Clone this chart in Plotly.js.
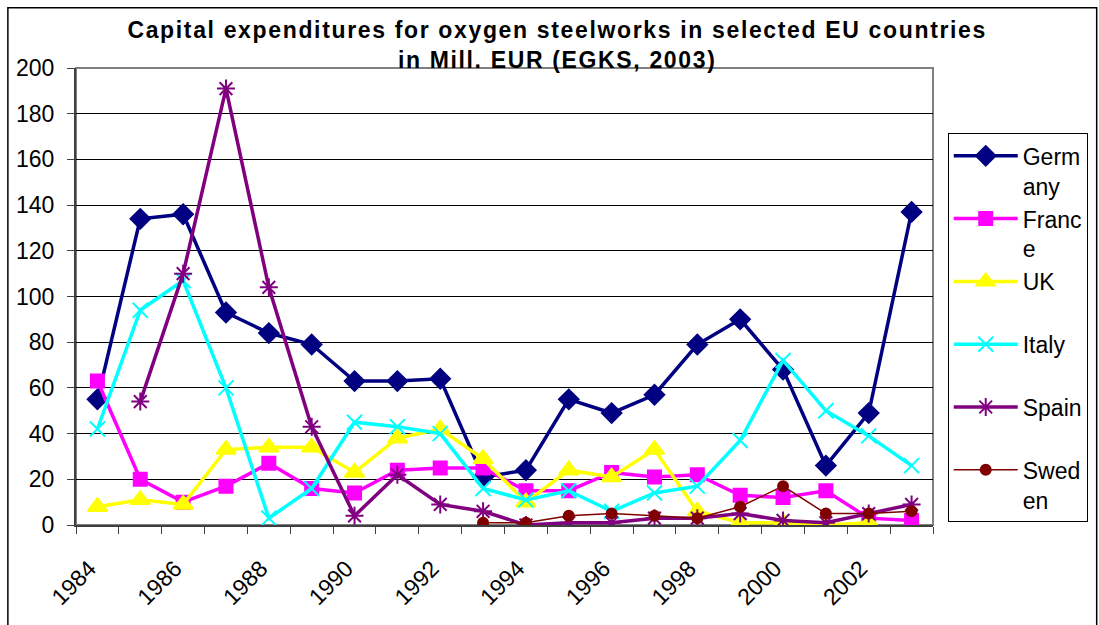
<!DOCTYPE html>
<html>
<head>
<meta charset="utf-8">
<script src="https://cdn.plot.ly/plotly-3.0.1.min.js"></script>
<style>
  body { margin: 0; background: #fff; }
  #chart { width: 1099px; height: 625px; }
  .gtitle { letter-spacing: 1.65px; }
</style>
</head>
<body>
<div id="chart"></div>
<script>
CHART = document.getElementById('chart');

// Jahre (Kategorien) und Achsenbeschriftung, nur jedes zweite Jahr beschriftet
var years = ['1984','1985','1986','1987','1988','1989','1990','1991','1992','1993',
             '1994','1995','1996','1997','1998','1999','2000','2001','2002','2003'];
var yearLabels = ['1984','','1986','','1988','','1990','','1992','',
                  '1994','','1996','','1998','','2000','','2002',''];

// Investitionen in Mill. EUR
var germany = [55, 134, 136, 93, 84, 79, 63, 63, 64, 21, 24, 55, 49, 57, 79, 90, 68, 26, 49, 137];
var france  = [63, 20, 10, 17, 27, 16, 14, 24, 25, 25, 15, 15, 23, 21, 22, 13, 12, 15, 3, 2];
var uk      = [8, 11, 9, 33, 34, 34, 23, 38, 42, 29, 10, 24, 21, 33, 6, 1, 1, 0, 1, null];
var italy   = [42, 94, 107, 60, 3, 16, 45, 43, 40, 16, 11, 15, 6, 14, 17, 37, 72, 50, 39, 26];
var spain   = [null, 54, 110, 191, 104, 43, 4, 22, 9, 6, 0, 1, 1, 3, 3, 5, 2, 1, 5, 9];
var sweden  = [null, null, null, null, null, null, null, null, null, 1,
               1, 4, 5, 4, 3, 8, 17, 5, 5, 6];

function serie(name, values, color, symbol, size, width) {
    return {
        x: years,
        y: values,
        name: name,
        legendgroup: name,
        type: 'scatter',
        mode: 'lines+markers',
        line: { color: color, width: width },
        marker: { color: color, symbol: symbol, size: size, line: { color: color, width: 2 } },
        connectgaps: false
    };
}

var data = [
    serie('Germ<br>any', germany, '#000080', 'diamond', 15, 3.5),
    serie('Franc<br>e', france, '#FF00FF', 'square', 13, 3.5),
    serie('UK<br> ', uk, '#FFFF00', 'triangle-up', 17, 3.5),
    serie('Italy<br> ', italy, '#00FFFF', 'x-thin-open', 15, 3.5),
    serie('Spain<br> ', spain, '#800080', 'asterisk-open', 15, 3.5),
    serie('Swed<br>en', sweden, '#800000', 'circle', 10, 1.5)
];

var layout = {
    width: 1099,
    height: 625,
    paper_bgcolor: '#fff',
    plot_bgcolor: '#fff',
    font: { family: 'Liberation Sans, Arial, sans-serif', size: 23, color: '#000' },
    margin: { l: 76, r: 165, t: 68, b: 100 },
    title: {
        text: 'Capital expenditures for oxygen steelworks in selected EU countries<br>in Mill. EUR (EGKS, 2003)',
        font: { family: 'Liberation Sans, Arial, sans-serif', size: 23, weight: 'bold', color: '#000' },
        x: 0.507,
        xanchor: 'center',
        yref: 'container',
        y: 1 - 38 / 625,
        yanchor: 'top'
    },
    xaxis: {
        type: 'category',
        tickvals: years,
        ticktext: yearLabels,
        tickangle: -45,
        tickson: 'boundaries',
        ticks: 'outside',
        ticklen: 7,
        tickwidth: 1,
        tickcolor: '#404040',
        showline: true,
        linecolor: '#404040',
        linewidth: 2,
        showgrid: false,
        ticklabelstandoff: 19,
        ticklabelshift: -8,
        range: [-0.5, 19.5]
    },
    yaxis: {
        range: [0, 200],
        dtick: 20,
        ticks: 'outside',
        ticklen: 7,
        tickwidth: 1,
        tickcolor: '#404040',
        showline: true,
        linecolor: '#404040',
        linewidth: 2,
        showgrid: true,
        gridcolor: '#000',
        gridwidth: 1,
        zeroline: false,
        ticklabelstandoff: 8
    },
    legend: {
        x: 1.016,
        xanchor: 'left',
        y: 0.857,
        yanchor: 'top',
        bordercolor: '#000',
        borderwidth: 1,
        bgcolor: '#fff',
        valign: 'top',
        itemwidth: 64,
        tracegroupgap: 0,
        font: { size: 23 }
    },
    shapes: [
        // grauer Rahmen um die Zeichenfläche
        { type: 'rect', xref: 'paper', yref: 'paper', x0: 0, x1: 1, y0: 0, y1: 1,
          line: { color: '#808080', width: 2 }, layer: 'below' },
        // äußerer Diagrammrahmen
        { type: 'rect', xref: 'paper', yref: 'paper', x0: -0.0795, x1: 1.191, y0: -0.25, y1: 1.132,
          line: { color: '#000', width: 1.5 }, layer: 'below' }
    ],
    showlegend: true
};

var config = { staticPlot: true };

Plotly.newPlot(CHART, data, layout, config);
</script>
</body>
</html>
